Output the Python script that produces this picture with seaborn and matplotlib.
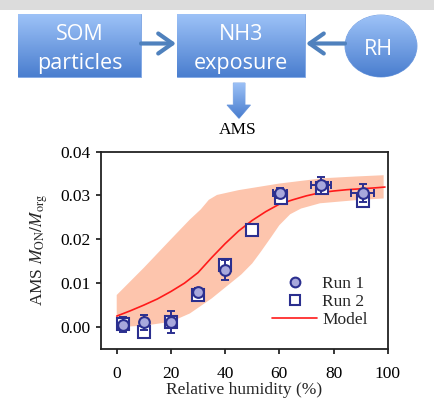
import numpy as np
import pandas as pd
import matplotlib
matplotlib.use("Agg")
import matplotlib.pyplot as plt
import seaborn as sns
from matplotlib.patches import Rectangle, Ellipse, Polygon
from matplotlib.lines import Line2D
from matplotlib.colors import LinearSegmentedColormap

# ---------------- data ----------------
run1_rh = [2.5, 10, 20, 30, 40, 60.3, 75.5, 90.8]
run1_val = [0.0005, 0.0011, 0.0011, 0.0080, 0.0130, 0.0305, 0.0323, 0.0306]
run1_yerr = [0.0017, 0.0017, 0.0025, 0.0010, 0.0023, 0.0012, 0.0020, 0.0020]
run1_xerr = [0, 0, 0, 0, 0, 2.7, 3.7, 4.2]

run2_rh = [2.5, 10, 20, 30, 40, 50, 60.5, 75.8, 91]
run2_val = [0.0007, -0.0011, 0.0011, 0.0074, 0.0141, 0.0221, 0.0294, 0.0316, 0.0288]

model_rh = [0, 5, 10, 15, 20, 25, 30, 35, 40, 45, 50, 55, 60, 65, 70, 75, 80, 85, 90, 95, 99]
model_val = [0.0025, 0.0037, 0.0050, 0.0064, 0.0081, 0.0100, 0.0124, 0.0158, 0.0190, 0.0219,
             0.0243, 0.0263, 0.0280, 0.0290, 0.0299, 0.0306, 0.0310, 0.0313, 0.0315, 0.0317, 0.0319]

band_up_rh = [0, 10, 20, 27, 31, 34, 37, 45, 60, 76, 88, 98.5]
band_up_val = [0.0073, 0.0135, 0.0200, 0.0245, 0.0268, 0.0290, 0.0301, 0.0312, 0.0327, 0.0339, 0.0343, 0.0346]
band_lo_rh = [0, 10, 20, 27, 35, 42, 46, 50, 53, 57, 60, 64, 68, 75, 88, 98.5]
band_lo_val = [0.0000, 0.0003, 0.0012, 0.0031, 0.0065, 0.0100, 0.0120, 0.0145, 0.0170, 0.0205,
               0.0232, 0.0257, 0.0270, 0.0282, 0.0289, 0.0293]

x_ticks = [0, 20, 40, 60, 80, 100]
y_ticks = [0.00, 0.01, 0.02, 0.03, 0.04]
y_ticklabels = ["0.00", "0.01", "0.02", "0.03", "0.04"]
legend_labels = ["Run 1", "Run 2", "Model"]

# ---------------- style ----------------
sns.set_theme(style="ticks")
plt.rcParams["font.family"] = ["Liberation Serif", "DejaVu Serif"]
plt.rcParams["mathtext.fontset"] = "stix"

navy = "#2b2f8f"
lav = "#a8a8dc"
band_c = "#fdc5ad"

fig = plt.figure(figsize=(4.35, 3.99), dpi=100)
fig.patch.set_facecolor("white")

# ---------------- flow diagram (pixel coordinates) ----------------
bg = fig.add_axes([0, 0, 1, 1], zorder=0)
bg.axis("off")
bg.add_patch(Rectangle((0, 0), 435, 9.5, facecolor="#dcdcdc", lw=0))

grad = LinearSegmentedColormap.from_list("g", ["#9dc2f7", "#4a7ecf"])


def grad_fill(patch, x0, x1, y0, y1):
    patch.set_facecolor("none")
    patch.set_edgecolor("#6f9be0")
    patch.set_linewidth(0.6)
    bg.add_patch(patch)
    im = bg.imshow(np.linspace(0, 1, 100).reshape(-1, 1), cmap=grad,
                   extent=(x0, x1, y1, y0), aspect="auto", zorder=1,
                   interpolation="bilinear")
    im.set_clip_path(patch)


grad_fill(Rectangle((18.3, 14), 122.7, 62.7), 18.3, 141, 14, 76.7)
grad_fill(Rectangle((177, 14), 128, 62.7), 177, 305, 14, 76.7)
grad_fill(Ellipse((381, 46), 72, 62), 345, 417, 15, 77)
grad_fill(Polygon([(233.3, 83), (245, 83), (245, 105), (250.5, 105), (239, 118.5),
                   (227, 105), (233.3, 105)], closed=True), 226, 251, 83, 118.5)

tkw = dict(family=["Open Sans", "DejaVu Sans"], color="white", fontsize=15.5,
           ha="center", va="baseline", zorder=3)
bg.text(79.7, 39.5, "SOM", **tkw)
bg.text(79.7, 68.5, "particles", **tkw)
bg.text(241, 39.5, "NH3", **tkw)
bg.text(241, 68.5, "exposure", **tkw)
bg.text(378.5, 55, "RH", **tkw)

akw = dict(arrowstyle="->, head_length=0.85, head_width=0.6", lw=3.0,
           color="#4f81bd", shrinkA=0, shrinkB=0)
bg.annotate("", xy=(176, 43.5), xytext=(141, 43.5), arrowprops=akw, zorder=3)
bg.annotate("", xy=(306, 43.5), xytext=(345, 43.5), arrowprops=akw, zorder=3)

bg.text(238, 130.5, "AMS", fontsize=12.5, ha="center", va="center", color="black")
bg.set_xlim(0, 435)
bg.set_ylim(399, 0)

# ---------------- main chart ----------------
ax = fig.add_axes([101 / 435, 1 - 349 / 399, 286.7 / 435, 197.5 / 399], zorder=2)
ax.set_facecolor("white")

band_x = list(band_up_rh) + list(band_lo_rh[::-1])
band_y = list(band_up_val) + list(band_lo_val[::-1])
ax.fill(band_x, band_y, color=band_c, lw=0, zorder=1)

sns.lineplot(x=model_rh, y=model_val, color="#ff1a1a", lw=1.2, ax=ax, zorder=2)

ax.plot(run2_rh, run2_val, ls="none", marker="s", ms=8.8, mfc="white",
        mec=navy, mew=1.5, zorder=3)
ax.errorbar(run1_rh, run1_val, yerr=run1_yerr, xerr=run1_xerr, fmt="none",
            ecolor=navy, elinewidth=1.4, capsize=2.8, capthick=1.4, zorder=4)
sns.scatterplot(x=run1_rh, y=run1_val, marker="o", s=60, color=lav,
                edgecolor=navy, linewidth=1.5, ax=ax, zorder=5)

ax.set_xlim(-5.8, 100)
ax.set_ylim(-0.005, 0.04)
ax.set_xticks(x_ticks)
ax.set_xticklabels([str(t) for t in x_ticks])
ax.set_yticks(y_ticks)
ax.set_yticklabels(y_ticklabels)
ax.tick_params(direction="out", length=3.6, width=1.1, labelsize=12.5,
               colors="black", pad=4)
ax.tick_params(axis="x", pad=9)
for sp in ax.spines.values():
    sp.set_visible(True)
    sp.set_linewidth(1.3)
    sp.set_color("#222222")

ax.set_xlabel("Relative humidity (%)", fontsize=12.5, labelpad=0)
ax.set_ylabel(r"AMS $M_{\mathrm{ON}}/M_{\mathrm{org}}$", fontsize=12.5, labelpad=7)

handles = [
    Line2D([], [], ls="none", marker="o", ms=7.0, mfc=lav, mec=navy, mew=1.5),
    Line2D([], [], ls="none", marker="s", ms=7.5, mfc="white", mec=navy, mew=1.5),
    Line2D([], [], color="#ff1a1a", lw=1.2),
]
ax.legend(handles, legend_labels, loc="upper left", bbox_to_anchor=(272 / 435, 1 - 276 / 399),
          bbox_transform=fig.transFigure, frameon=False, fontsize=12.5,
          handlelength=2.6, handletextpad=0.3, labelspacing=0.1,
          borderpad=0, borderaxespad=0)

fig.savefig("out.png", dpi=100)
